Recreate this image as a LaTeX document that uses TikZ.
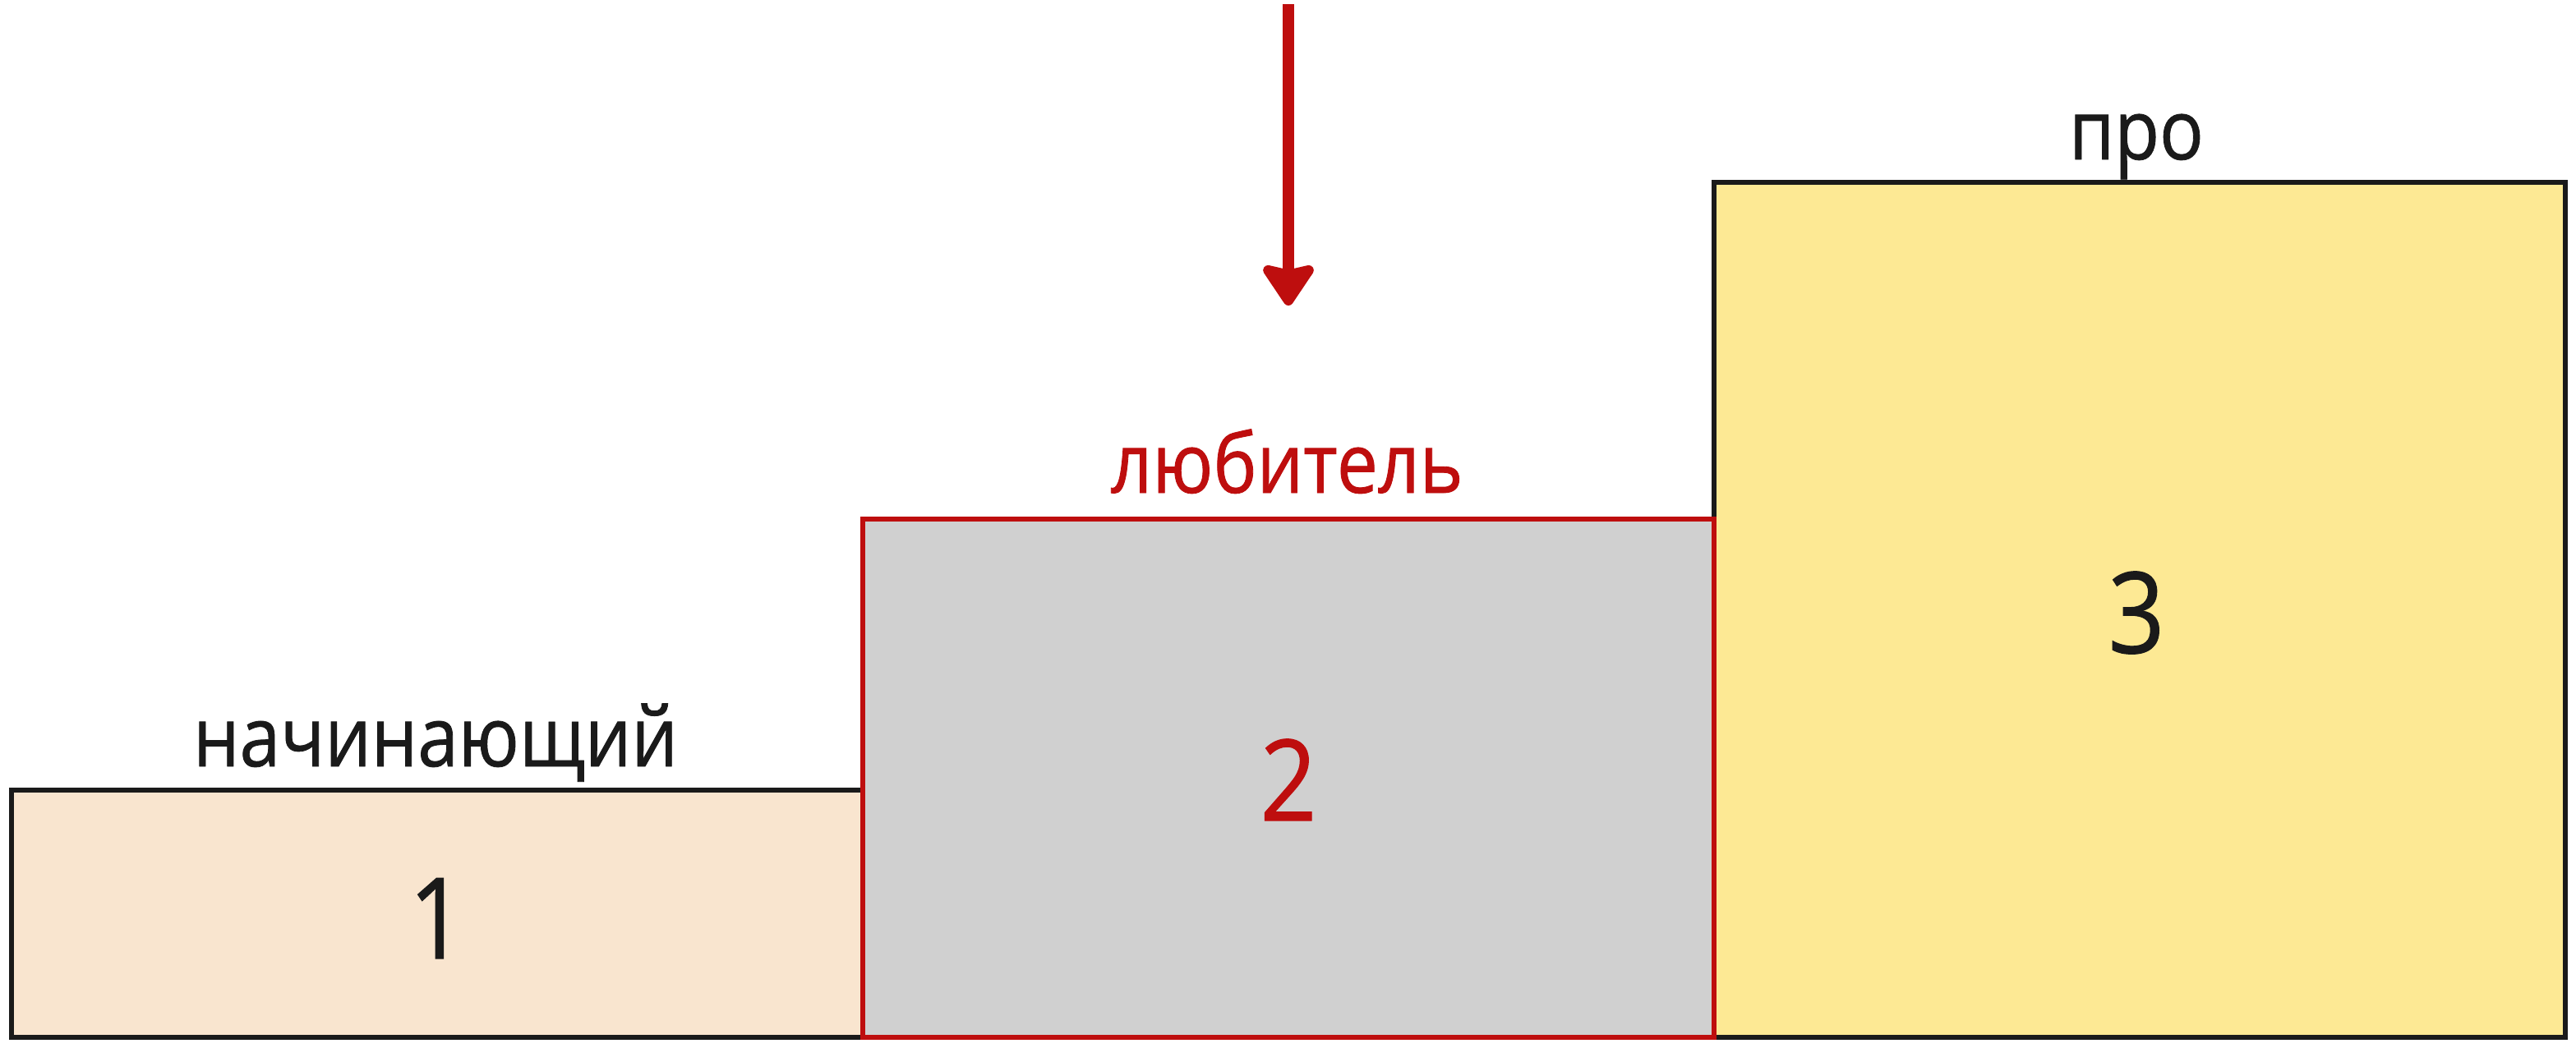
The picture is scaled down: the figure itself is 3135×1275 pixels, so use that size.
\documentclass[tikz,border=0pt]{standalone}
\usepackage{fontspec}
\setmainfont{Open Sans}
\newfontfamily\condfont[FakeStretch=0.88,FakeBold=0.8]{Open Sans}
\usetikzlibrary{arrows.meta}
\definecolor{peach}{HTML}{F9E5CF}
\definecolor{lgray}{HTML}{D0D0D0}
\definecolor{lyellow}{HTML}{FDE994}
\definecolor{dred}{HTML}{BE0E0E}
\definecolor{ink}{HTML}{1A1A1A}
\tikzset{
  px/.style={x=0.01cm,y=-0.01cm},
  blackbox/.style={draw=ink,line width=1.7pt},
  redbox/.style={draw=dred,line width=1.7pt},
  lbl/.style={anchor=base,inner sep=0pt,font=\condfont\fontsize{28.8}{32}\selectfont},
  num/.style={anchor=base,inner sep=0pt,font=\condfont\fontsize{39}{44}\selectfont},
}
\begin{document}
\begin{tikzpicture}[px]
\useasboundingbox (0,0) rectangle (3135,1275);
\fill[white] (0,0) rectangle (3135,1275);
\draw[blackbox,fill=peach] (14,962) rectangle (1050,1263);
\draw[blackbox,fill=lyellow] (2086,222) rectangle (3122,1263);
\draw[redbox,fill=lgray] (1050,632) rectangle (2086,1263);
\node[lbl,text=ink] (l1) at (530,933) {начинающий};
\node[lbl,text=dred] (l2) at (1566,600) {любитель};
\node[lbl,text=ink] (l3) at (2600,194) {про};
\node[num,text=ink] (n1) at (532,1167) {1};
\node[num,text=dred] (n2) at (1568,999) {2};
\node[num,text=ink] (n3) at (2600,795) {3};
\coordinate (atop) at (1568,5);
\coordinate (atip) at (1568,372);
\draw[dred,line width=3.8pt,-{Stealth[length=16pt,width=21pt,inset=2.2pt,round]}] (atop) -- (atip);
\end{tikzpicture}
\end{document}
